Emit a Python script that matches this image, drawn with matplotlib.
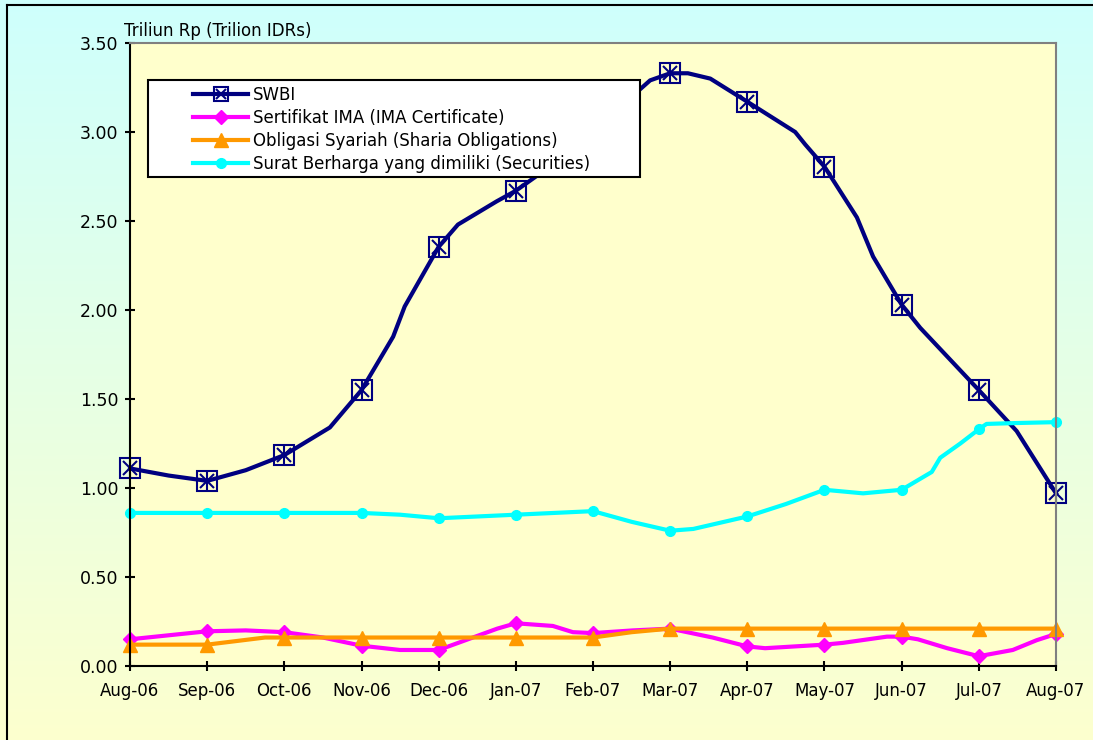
import numpy as np
import matplotlib
matplotlib.use("Agg")
import matplotlib.pyplot as plt
from matplotlib.colors import LinearSegmentedColormap
from matplotlib.patches import Rectangle
from matplotlib.lines import Line2D

# months since Aug-06 (fractional positions = in-between readings)
months = ["Aug-06", "Sep-06", "Oct-06", "Nov-06", "Dec-06", "Jan-07", "Feb-07",
          "Mar-07", "Apr-07", "May-07", "Jun-07", "Jul-07", "Aug-07"]

swbi_x = [0, 0.5, 1, 1.5, 2, 2.59, 3, 3.41, 3.56, 4, 4.25, 4.75, 5, 5.26, 6,
          6.61, 6.74, 7, 7.23, 7.52, 8, 8.62, 8.75, 9, 9.42, 9.63, 10, 10.24,
          11, 11.49, 12]
swbi = [1.11, 1.07, 1.04, 1.10, 1.185, 1.34, 1.55, 1.85, 2.02, 2.355, 2.48,
        2.61, 2.67, 2.75, 3.02, 3.24, 3.29, 3.33, 3.33, 3.30, 3.17, 3.00, 2.93,
        2.805, 2.52, 2.30, 2.03, 1.90, 1.55, 1.32, 0.97]

ima_x = [0, 1, 1.5, 2, 2.5, 3, 3.5, 4, 4.76, 5, 5.48, 5.74, 6, 6.52, 7, 7.55,
         8, 8.23, 9, 9.24, 9.81, 10, 10.21, 10.59, 11, 11.44, 11.75, 12]
ima = [0.15, 0.195, 0.20, 0.19, 0.16, 0.114, 0.09, 0.09, 0.21, 0.24, 0.225,
       0.19, 0.185, 0.20, 0.21, 0.16, 0.11, 0.10, 0.12, 0.13, 0.165, 0.165,
       0.15, 0.10, 0.055, 0.09, 0.145, 0.18]

obl_x = [0, 1, 1.75, 2, 3, 4, 5, 6, 6.5, 7, 8, 9, 10, 11, 12]
obl = [0.12, 0.12, 0.16, 0.16, 0.16, 0.16, 0.16, 0.16, 0.19, 0.21, 0.21,
       0.21, 0.21, 0.21, 0.21]

sec_x = [0, 1, 2, 3, 3.5, 4, 5, 6, 6.5, 7, 7.3, 8, 8.5, 9, 9.5, 10, 10.39,
         10.5, 10.76, 11, 11.1, 11.49, 12]
sec = [0.86, 0.86, 0.86, 0.86, 0.85, 0.83, 0.85, 0.87, 0.81, 0.76, 0.77,
       0.84, 0.91, 0.99, 0.97, 0.99, 1.09, 1.17, 1.25, 1.33, 1.36, 1.365, 1.37]

labels = ["SWBI", "Sertifikat IMA (IMA Certificate)",
          "Obligasi Syariah (Sharia Obligations)",
          "Surat Berharga yang dimiliki (Securities)"]


def monthly(xs):
    return [i for i, v in enumerate(xs) if float(v).is_integer()]


fig = plt.figure(figsize=(10.93, 7.40), dpi=100)

# gradient background, cyan at top fading to pale yellow
bg = fig.add_axes([0, 0, 1, 1], zorder=-10)
cmap = LinearSegmentedColormap.from_list("bg", ["#CCFFFF", "#FFFFCC"])
bg.imshow(np.linspace(0, 1, 256).reshape(-1, 1), aspect="auto", cmap=cmap,
          extent=[-0.05, 1.05, -0.05, 1.05], interpolation="bilinear")
bg.set_xlim(0, 1)
bg.set_ylim(0, 1)
bg.set_axis_off()
fig.add_artist(Line2D([6.5 / 1093, 6.5 / 1093], [-0.01, 1 - 5 / 740],
                      transform=fig.transFigure, color="black", lw=1.5))
fig.add_artist(Line2D([6.5 / 1093, 0.999], [1 - 5 / 740, 1 - 5 / 740],
                      transform=fig.transFigure, color="black", lw=1.5))

ax = fig.add_axes([130 / 1093, 0.1, 926 / 1093, 623 / 740])
ax.set_facecolor("#FFFFCC")

lw = 3
l1, = ax.plot(swbi_x, swbi, color="#000080", lw=lw, marker="s", ms=14,
              mfc="none", mec="#000080", mew=1.5, markevery=monthly(swbi_x))
ax.plot(swbi_x, swbi, ls="none", marker="x", ms=10, mec="#000080", mew=1.5,
        markevery=monthly(swbi_x), clip_on=False)
ax.plot(swbi_x, swbi, ls="none", marker="|", ms=13, mec="#000080", mew=1.5,
        markevery=monthly(swbi_x), clip_on=False)
l2, = ax.plot(ima_x, ima, color="#FF00FF", lw=lw, marker="D", ms=7,
              markevery=monthly(ima_x))
l3, = ax.plot(obl_x, obl, color="#FF9900", lw=lw, marker="^", ms=10,
              markevery=monthly(obl_x))
l4, = ax.plot(sec_x, sec, color="#00FFFF", lw=lw, marker="o", ms=7,
              markevery=monthly(sec_x))
for l in (l1, l2, l3, l4):
    l.set_clip_on(False)

ax.set_xlim(0, 12)
ax.set_ylim(0, 3.5)
ax.set_xticks(range(13))
ax.set_xticklabels(months, fontsize=12)
ax.set_yticks(np.arange(0, 3.51, 0.5))
ax.set_yticklabels(["%.2f" % v for v in np.arange(0, 3.51, 0.5)], fontsize=12.5)
ax.tick_params(direction="inout", length=7, width=1.5, color="black", pad=5)
ax.tick_params(axis="x", pad=8)

for s in ("left", "bottom"):
    ax.spines[s].set_color("black")
    ax.spines[s].set_linewidth(1.5)
for s in ("top", "right"):
    ax.spines[s].set_color("#808080")
    ax.spines[s].set_linewidth(1.5)

fig.text(124 / 1093, 1 - 31 / 740, "Triliun Rp (Trilion IDRs)", fontsize=12,
         va="center", ha="left")

# legend box
ax.add_patch(Rectangle((18 / 926, 489 / 623), 492 / 926, 97 / 623,
                       transform=ax.transAxes, fc="white", ec="black",
                       lw=1.5, zorder=5))
h1 = Line2D([], [], color="#000080", lw=lw, marker="s", ms=10, mfc="none",
            mec="#000080", mew=1.5)
h1b = Line2D([], [], ls="none", marker="x", ms=7, mec="#000080", mew=1.5)
leg = ax.legend([(h1, h1b), l2, l3, l4], labels, loc="upper left",
                bbox_to_anchor=(63 / 926, 580 / 623), frameon=False,
                fontsize=12, handlelength=3.3, handletextpad=0.3,
                labelspacing=0.3, borderpad=0, borderaxespad=0)
leg.set_zorder(6)

fig.savefig("out.png", dpi=100)
